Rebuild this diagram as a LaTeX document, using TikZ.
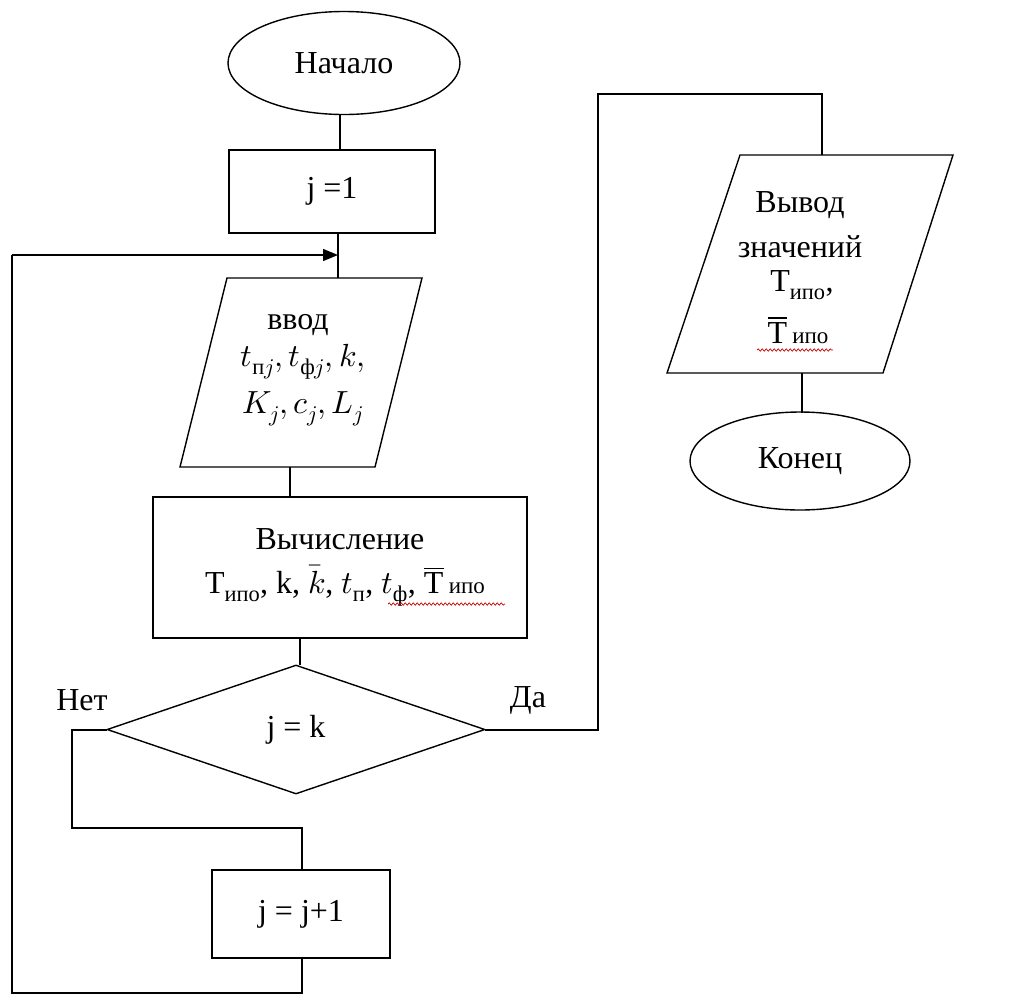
\documentclass[tikz,border=0pt]{standalone}
\usepackage{amsmath}
\usepackage{unicode-math}
\setmainfont{Liberation Serif}
\setmathfont{Latin Modern Math}
\usetikzlibrary{shapes.geometric,arrows.meta,decorations.pathmorphing}
\newcommand{\fsz}{\fontsize{32}{38}\selectfont}
\newcommand{\fsm}{\fontsize{23}{27}\selectfont}
\tikzset{
  conn/.style={draw, line width=1.4pt},
  term/.style={ellipse, draw, line width=1.4pt, inner sep=0pt, font=\fsz},
  procbox/.style={rectangle, draw, line width=1.4pt, inner sep=0pt, font=\fsz, align=center},
  decis/.style={diamond, draw, line width=1.4pt, inner sep=0pt, font=\fsz},
  iobox/.style={draw, line width=1.4pt},
  lbl/.style={inner sep=0pt, font=\fsz},
  spell/.style={draw=red!80!black, line width=0.7pt, decorate, decoration={snake, amplitude=1.2pt, segment length=4pt}},
  tip/.style={-{Triangle[length=15pt,width=12pt]}}
}
\begin{document}
\begin{tikzpicture}[x=1pt,y=-1pt]
\useasboundingbox (0,0) rectangle (1015,994);

% terminals and boxes
\node[term, minimum width=232pt, minimum height=103pt] (start) at (344,63) {Начало};
\node[procbox, minimum width=206pt, minimum height=83pt] (init) at (332,191.5) {j =1};

% input parallelogram
\coordinate (inBL) at (180,467);
\coordinate (inTL) at (227,278);
\coordinate (inTR) at (422,278);
\coordinate (inBR) at (375,467);
\path[iobox] (inBL) -- (inTL) -- (inTR) -- (inBR) -- cycle;
\node[lbl] (in1) at (298,325) {ввод};
\node[lbl] (in2) at (303,362) {$t_{\text{п}j}, t_{\text{ф}j}, k,$};
\node[lbl] (in3) at (303,409) {$K_j, c_j, L_j$};

\node[procbox, minimum width=374pt, minimum height=141pt] (calc) at (340,567.5)
  {Вычисление\\[6pt] \hspace*{10pt}Т$_{\text{ипо}}$, k, $\bar{k}$, $t_{\text{п}}$, $t_{\text{ф}}$, $\overline{\text{Т}}$\,{\fsm ипо}};
\draw[spell] (388,604) -- (505,604);

\node[decis, minimum width=378pt, minimum height=129pt] (dec) at (296,729.5) {j = k};
\node[lbl] (no) at (82,700) {Нет};
\node[lbl] (yes) at (528,700) {Да};

\node[procbox, minimum width=178pt, minimum height=88pt] (inc) at (301,914) {j = j+1};

% output parallelogram
\coordinate (outBL) at (667,373);
\coordinate (outTL) at (740,155);
\coordinate (outTR) at (953,155);
\coordinate (outBR) at (883,373);
\path[iobox] (outBL) -- (outTL) -- (outTR) -- (outBR) -- cycle;
\node[lbl] (o1) at (800,205) {Вывод};
\node[lbl] (o2) at (800,247) {значений};
\node[lbl] (o3) at (802,285) {Т$_{\text{ипо}}$,};
\node[lbl] (o4) at (798,330) {$\overline{\text{Т}}$\,{\fsm ипо}};
\draw[spell] (757,350) -- (833,350);

\node[term, minimum width=220pt, minimum height=98pt] (end) at (800,461) {Конец};

% connector points
\coordinate (p1a) at (340,114);
\coordinate (p1b) at (340,150);
\coordinate (p2a) at (338,233);
\coordinate (p2b) at (338,278);
\coordinate (p3a) at (290,467);
\coordinate (p3b) at (290,497);
\coordinate (p4a) at (300,638);
\coordinate (p4b) at (300,665);
\coordinate (decL) at (107,730);
\coordinate (decR) at (485,730);
\coordinate (n1) at (72,730);
\coordinate (n2) at (72,828);
\coordinate (n3) at (302,828);
\coordinate (n4) at (302,870);
\coordinate (l1) at (302,958);
\coordinate (l2) at (302,993);
\coordinate (l3) at (12,993);
\coordinate (l4) at (12,255);
\coordinate (l5) at (338,255);
\coordinate (y1) at (598,730);
\coordinate (y2) at (598,94);
\coordinate (y3) at (822,94);
\coordinate (y4) at (822,155);
\coordinate (q1) at (802,373);
\coordinate (q2) at (802,413);

% connectors
\path[conn] (p1a) -- (p1b);
\path[conn] (p2a) -- (p2b);
\path[conn] (p3a) -- (p3b);
\path[conn] (p4a) -- (p4b);
\path[conn] (decL) -- (n1) -- (n2) -- (n3) -- (n4);
\path[conn] (l1) -- (l2) -- (l3) -- (l4);
\path[conn, tip] (l4) -- (l5);
\path[conn] (decR) -- (y1) -- (y2) -- (y3) -- (y4);
\path[conn] (q1) -- (q2);
\end{tikzpicture}
\end{document}
